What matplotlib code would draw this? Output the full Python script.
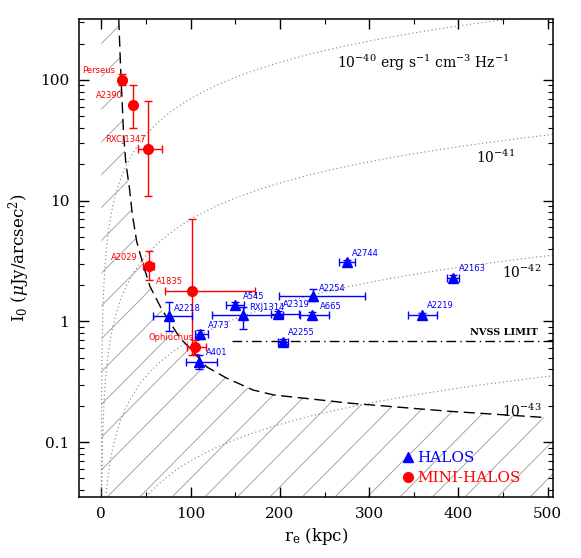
import numpy as np
import matplotlib
matplotlib.use('Agg')
import matplotlib.pyplot as plt
from matplotlib.lines import Line2D
from matplotlib.patches import Polygon
from matplotlib.collections import LineCollection
from matplotlib.ticker import MultipleLocator

plt.rcParams['font.family'] = 'DejaVu Serif'
plt.rcParams['mathtext.fontset'] = 'dejavuserif'

# mini-halos (red)
mh_names = ['Perseus', 'A2390', 'RXCJ1347', 'A2029', 'A1835', 'Ophiuchus']
mh_re = [23, 36, 52, 53, 102, 105]
mh_re_lo = [0, 0, 11, 6, 31, 9]
mh_re_hi = [0, 0, 16, 6, 70, 12]
mh_I = [100, 62, 26.6, 2.85, 1.8, 0.61]
mh_I_lo = [10, 22, 15.6, 0.63, 1.27, 0.07]
mh_I_hi = [12, 28, 40, 0.96, 5.2, 0.09]

# halos (blue)
h_names = ['A2744', 'A2163', 'A2254', 'A665', 'A2219', 'A2255',
           'A2319', 'RXJ1314', 'A545', 'A2218', 'A773', 'A401']
h_re = [275, 394, 237, 236, 359, 203, 198, 159, 150, 76, 111, 109]
h_re_lo = [9, 7, 38, 14, 15, 5, 8, 35, 10, 18, 6, 14]
h_re_hi = [9, 7, 58, 19, 17, 6, 23, 45, 10, 25, 8, 20]
h_I = [3.1, 2.3, 1.62, 1.12, 1.12, 0.68, 1.15, 1.12, 1.36, 1.1, 0.78, 0.46]
h_I_lo = [0.15, 0.12, 0.14, 0.08, 0.06, 0.04, 0.06, 0.26, 0.08, 0.27, 0.07, 0.06]
h_I_hi = [0.15, 0.12, 0.25, 0.08, 0.06, 0.04, 0.06, 0.20, 0.08, 0.35, 0.07, 0.07]

# detection limit curve (dashed)
lim_re = [19.5, 21.7, 23.6, 24.7, 27.3, 31.4, 34.7, 39.6, 46.7, 54.5, 67.6,
          88, 99.3, 118, 140, 170, 193, 279, 390, 497]
lim_I = [320, 119, 59, 38, 21, 12.8, 7.7, 4.6, 2.97, 1.95, 1.26,
         0.73, 0.60, 0.42, 0.34, 0.27, 0.246, 0.21, 0.18, 0.16]

# constant emissivity lines: I0 = k * re
emis_k = [0.70, 0.070, 0.0070, 0.00070]
emis_labels = [r'10$^{-40}$ erg s$^{-1}$ cm$^{-3}$ Hz$^{-1}$', r'10$^{-41}$',
               r'10$^{-42}$', r'10$^{-43}$']
emis_label_pos = [(361, 138), (441, 22.7), (471, 2.57), (471, 0.18)]

nvss_I = 0.69
nvss_start = 146

# label offsets in points
mh_offsets = [(-4.8, 6.5), (-7.4, 6.7), (-1.2, 7.4), (-7.7, 6.3), (-6.7, 6.7), (-1.4, 7)]
h_offsets = [(3.6, 6.5), (4, 6.5), (4.3, 5.8), (5.5, 6.5), (3.6, 7), (3.5, 6.3),
             (3.2, 6.8), (4.1, 6), (5.5, 6.3), (3.6, 6), (5.3, 6.3), (5.5, 6.7)]

xmin, xmax = -25, 506
ymin, ymax = 0.035, 320

fig = plt.figure(figsize=(5.81, 5.58), dpi=100)
ax = fig.add_axes([0.136, 0.109, 0.816, 0.857])
ax.set_yscale('log')
ax.set_xlim(xmin, xmax)
ax.set_ylim(ymin, ymax)

# hatched excluded region below the dashed curve
verts = [(0, 0.01), (0, lim_I[0])] + list(zip(lim_re, lim_I)) + \
        [(xmax, lim_I[-1]), (xmax, 0.01)]
region = Polygon(verts, closed=True, transform=ax.transData)
step = 0.0686
segs = [[(c, 0), (c + 1.2, 1.2)] for c in np.arange(0.059 - 18 * step, 1.0, step)]
hatch = LineCollection(segs, colors='0.6', linewidths=0.6,
                       transform=ax.transAxes, zorder=1)
hatch.set_clip_path(region)
ax.add_collection(hatch)

r = np.linspace(0.05, 520, 3000)
for k in emis_k:
    ax.plot(r, k * r, color='0.5', lw=0.8, ls=(0, (1, 2.5)), zorder=2)
for lab, (x, y) in zip(emis_labels, emis_label_pos):
    ax.text(x, y, lab, fontsize=10, ha='center', va='center')

ax.plot(lim_re, lim_I, color='k', lw=1, dashes=(8, 4), zorder=3)

ax.plot([nvss_start, xmax], [nvss_I, nvss_I], color='k', lw=1,
        ls=(0, (7, 3, 1, 3)), zorder=3)
ax.text(489, nvss_I * 1.08, 'NVSS LIMIT', fontsize=7, ha='right', va='bottom',
        fontweight='bold')

ax.errorbar(mh_re, mh_I, xerr=[mh_re_lo, mh_re_hi], yerr=[mh_I_lo, mh_I_hi],
            fmt='o', color='red', ms=7, capsize=3, elinewidth=1, capthick=1, zorder=4)
ax.errorbar(h_re, h_I, xerr=[h_re_lo, h_re_hi], yerr=[h_I_lo, h_I_hi],
            fmt='^', color='blue', ms=6.5, capsize=3, elinewidth=1, capthick=1, zorder=5)

for name, x, y, off in zip(mh_names, mh_re, mh_I, mh_offsets):
    ax.annotate(name, (x, y), xytext=off, textcoords='offset points', fontsize=6,
                color='red', family='DejaVu Sans', ha='right', va='center', zorder=6)
for name, x, y, off in zip(h_names, h_re, h_I, h_offsets):
    ax.annotate(name, (x, y), xytext=off, textcoords='offset points', fontsize=6,
                color='blue', family='DejaVu Sans', ha='left', va='center', zorder=6)

handles = [Line2D([], [], marker='^', color='blue', ls='none', ms=7),
           Line2D([], [], marker='o', color='red', ls='none', ms=7)]
ax.legend(handles, ['HALOS', 'MINI-HALOS'], loc='lower left',
          bbox_to_anchor=(0.685, 0.025), frameon=False, handlelength=0.6,
          handletextpad=0.3, labelspacing=0.4, fontsize=11,
          labelcolor=['blue', 'red'], borderaxespad=0, borderpad=0)

ax.set_xticks([0, 100, 200, 300, 400, 500])
ax.xaxis.set_minor_locator(MultipleLocator(50))
ax.set_yticks([0.1, 1, 10, 100])
ax.set_yticklabels(['0.1', '1', '10', '100'])
ax.tick_params(which='both', direction='in', top=True, right=True)
ax.tick_params(which='major', length=7, width=1, labelsize=11, pad=7)
ax.tick_params(which='minor', length=3.5, width=0.8)
for s in ax.spines.values():
    s.set_linewidth(1.1)

ax.set_xlabel(r'$\rm r_e$ (kpc)', fontsize=12, labelpad=4)
ax.set_ylabel(r'$\rm I_0$ ($\mu$Jy/arcsec$^2$)', fontsize=12, labelpad=6)

fig.savefig('out.png', dpi=100)
